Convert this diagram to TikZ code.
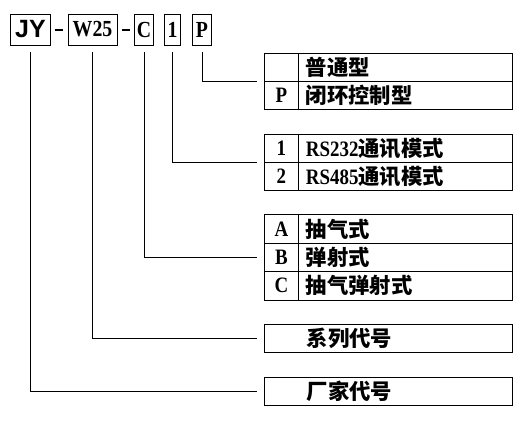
\documentclass[tikz,border=0pt]{standalone}
\usepackage{fontspec}
\setmainfont{Liberation Serif}[FakeStretch=0.86]
\newfontfamily\codesans{Liberation Sans}
\newfontfamily\cjk{Noto Sans CJK SC}[Scale=0.97]
\usetikzlibrary{positioning}

\begin{document}
\begin{tikzpicture}[x=1pt, y=-1pt,
    codebox/.style={draw, line width=0.9pt, minimum height=31pt, inner sep=0, font=\fontsize{23}{23}\selectfont\bfseries},
    keycell/.style={draw, line width=0.9pt, anchor=north west, minimum width=33.2pt, minimum height=28.4pt, inner sep=0, font=\fontsize{22}{22}\selectfont\bfseries},
    desccell/.style={draw, line width=0.9pt, anchor=north west, minimum width=214.8pt, minimum height=28.4pt, text width=198.8pt, inner xsep=8pt, inner ysep=0, align=left, font=\fontsize{22}{22}\selectfont\bfseries},
    widecell/.style={draw, line width=0.9pt, anchor=north west, minimum height=28pt, text width=164pt, inner xsep=42pt, inner ysep=0, align=left, font=\fontsize{22}{22}\selectfont\bfseries},
    link/.style={line width=0.9pt, shorten <=7pt, shorten >=7pt}
]
\useasboundingbox (0,0) rectangle (529,420);

% Code boxes along the top
\node[codebox, minimum width=40.7pt, font=\fontsize{25}{25}\selectfont\codesans\bfseries] (cJY) at (30.4,29.5) {JY};
\node[inner sep=0] (dash1) at (59,30) {\rule{8pt}{1.1pt}};
\node[codebox, minimum width=49pt] (cW) at (92.5,29.5) {W25};
\node[inner sep=0] (dash2) at (125.5,30) {\rule{8pt}{1.1pt}};
\node[codebox, minimum width=19pt] (cC) at (144,29.5) {C};
\node[codebox, minimum width=16pt] (c1) at (172.5,29.5) {1};
\node[codebox, minimum width=19pt] (cP) at (202,29.5) {P};

% Table: P
\node[keycell] (k0) at (264.3,52.5) {};
\node[desccell] (d0) at (297.5,52.5) {\cjk 普通型};
\node[keycell] (kP) at (264.3,80.9) {P};
\node[desccell] (dP) at (297.5,80.9) {\cjk 闭环控制型};

% Table: 1/2
\node[keycell] (k1) at (264.3,133.5) {1};
\node[desccell] (d1) at (297.5,133.5) {RS232{\cjk 通讯模式}};
\node[keycell] (k2) at (264.3,161.9) {2};
\node[desccell] (d2) at (297.5,161.9) {RS485{\cjk 通讯模式}};

% Table: A/B/C
\node[keycell] (kA) at (264.3,214.3) {A};
\node[desccell] (dA) at (297.5,214.3) {\cjk 抽气式};
\node[keycell] (kB) at (264.3,242.7) {B};
\node[desccell] (dB) at (297.5,242.7) {\cjk 弹射式};
\node[keycell] (kC) at (264.3,271.1) {C};
\node[desccell] (dC) at (297.5,271.1) {\cjk 抽气弹射式};

% Single boxes
\node[widecell] (series) at (264.3,324.3) {\cjk 系列代号};
\node[widecell] (maker) at (264.3,376.5) {\cjk 厂家代号};

% Leader lines
\draw[link] (cP.south) |- (k0.south west);
\draw[link] (c1.south) |- (k1.south west);
\draw[link] (cC.south) |- (kB.west);
\draw[link] (cW.south) |- (series.west);
\draw[link] (cJY.south) |- (maker.west);
\end{tikzpicture}
\end{document}
